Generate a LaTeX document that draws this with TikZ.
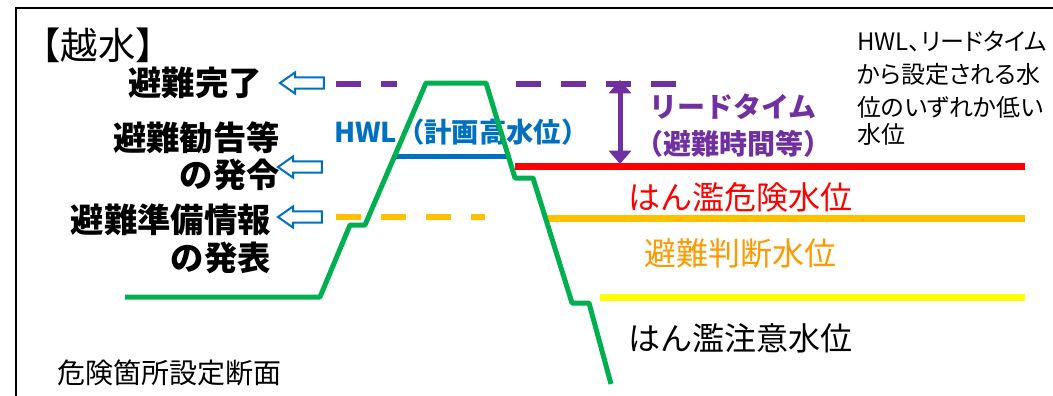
\documentclass[tikz,border=0pt]{standalone}
\usepackage{fontspec}
\setmainfont{Noto Sans CJK JP}
\newfontfamily\notefont{Noto Sans CJK JP}[RawFeature=+palt]
\usetikzlibrary{arrows.meta, shapes.arrows}
\definecolor{leveegreen}{HTML}{00B050}
\definecolor{hwlblue}{HTML}{0070C0}
\definecolor{leadpurple}{HTML}{7030A0}
\definecolor{warnorange}{HTML}{FFC000}
\definecolor{judgeorange}{HTML}{FF9900}
\definecolor{cautionyellow}{HTML}{FFFF00}

\begin{document}
\begin{tikzpicture}[
    x=0.75pt, y=-0.75pt,
    actiontext/.style={inner sep=0pt, align=right, font=\fontsize{25}{28}\selectfont\bfseries},
    leveltext/.style={inner sep=0pt, font=\fontsize{24}{28}\selectfont},
    wline/.style={line width=5.25pt},
    dline/.style={line width=4.5pt, dash pattern=on 18.75pt off 15pt},
    hollow/.style={single arrow, draw=hwlblue, fill=white, line width=1.5pt, shape border rotate=180, minimum height=33pt, minimum width=14pt, single arrow head extend=3.75pt, single arrow tip angle=70, inner xsep=0pt, inner ysep=3.5pt},
    leadarrow/.style={line width=3.75pt, leadpurple, {Triangle[width=16.5pt, length=10pt]}-{Triangle[width=16.5pt, length=10pt]}}
]
    \useasboundingbox (0,0) rectangle (1053,396);
    \clip (0,0) rectangle (1053,396);

    % Outer frame (runs off the right and bottom edges)
    \draw[line width=1.5pt] (16,420) -- (16,8) -- (1100,8);

    % Title and section label
    \node[inner sep=0pt, font=\fontsize{28}{30}\selectfont] (title) at (98,45) {【越水】};
    \node[inner sep=0pt, anchor=west, font=\fontsize{21}{24}\selectfont] (section) at (57,373) {危険箇所設定断面};

    % Actions on the left
    \node[actiontext, anchor=east] (done) at (262,83) {避難完了};
    \node[actiontext, anchor=east, font=\fontsize{25}{27.75}\selectfont\bfseries] (advice) at (280,156.5) {避難勧告等\\の発令};
    \node[actiontext, anchor=east, font=\fontsize{25}{28.5}\selectfont\bfseries] (prep) at (271,239) {避難準備情報\\の発表};

    % Hollow arrows pointing at the actions
    \node[hollow] (arrDone) at (306,83) {};
    \node[hollow] (arrAdvice) at (304,167) {};
    \node[hollow] (arrPrep) at (304,217) {};

    % Dashed levels
    \draw[dline, leadpurple] (336,84) -- (397,84);
    \draw[dline, leadpurple] (516,84) -- (678,84);
    \draw[dline, warnorange] (336,217) -- (485,217);

    % Water levels
    \draw[wline, red] (515,166.5) -- (1025,166.5);
    \draw[wline, warnorange] (545,218) -- (1025,218);
    \draw[wline, cautionyellow] (600,297) -- (1025,297);

    % HWL
    \draw[line width=3.75pt, hwlblue] (396,156) -- (508,156);
    \node[inner sep=0pt, anchor=west, text=hwlblue, font=\fontsize{20.5}{22}\selectfont\bfseries] (hwl) at (334,132) {HWL（計画高水位）};

    % Levee cross-section
    \draw[line width=3.75pt, leveegreen, line join=round]
        (125,297) -- (320,297) -- (350,225) -- (365,225) -- (426,83) -- (486,83)
        -- (515,178) -- (533,178) -- (572,303) -- (589,303) -- (611,384);

    % Lead time
    \coordinate (leadTop) at (620,80);
    \coordinate (leadBot) at (620,164);
    \draw[leadarrow] (leadTop) -- (leadBot);
    \node[inner sep=0pt, text=leadpurple, font=\fontsize{21}{24}\selectfont\bfseries] (lead) at (733,107) {リードタイム};
    \node[inner sep=0pt, text=leadpurple, font=\fontsize{21}{24}\selectfont\bfseries] (leadnote) at (733,144) {（避難時間等）};

    % Level names
    \node[leveltext, text=red] (danger) at (740,197) {はん濫危険水位};
    \node[leveltext, text=judgeorange] (judge) at (740,253) {避難判断水位};
    \node[leveltext] (caution) at (740,338) {はん濫注意水位};

    % Note on the right
    \node[inner sep=0pt, anchor=west, align=left, font=\notefont\fontsize{18}{24.75}\selectfont] (note) at (857,88)
        {HWL、リードタイム\\から設定される水\\位のいずれか低い\\[-4.5pt]水位};
\end{tikzpicture}
\end{document}
